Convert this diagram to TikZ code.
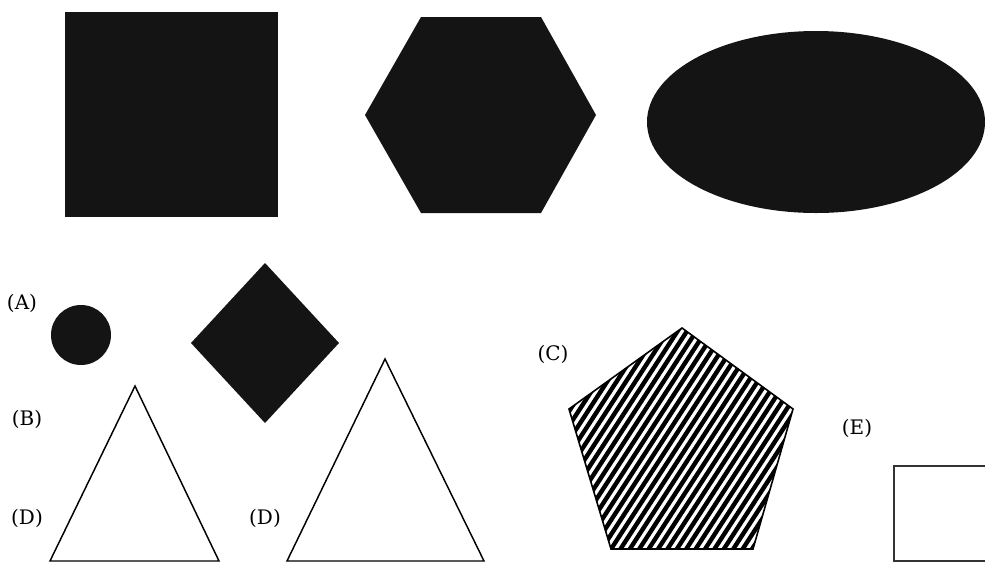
\documentclass[tikz,border=0pt]{standalone}
\usepackage{fontspec}
\setmainfont{DejaVu Serif}
\usetikzlibrary{shapes.geometric}
\begin{document}
\begin{tikzpicture}[x=0.75pt,y=-0.75pt,
  solidshape/.style={fill=black!92,draw=none},
  outline/.style={draw=black,line width=1.1pt,fill=none},
  lbl/.style={font=\fontsize{15}{18}\selectfont,inner sep=0pt,anchor=center}]
\useasboundingbox (0,0) rectangle (985,565);
\fill[white] (0,0) rectangle (985,565);
% top row
\fill[solidshape] (65,12) rectangle (278,217);
\fill[solidshape] (365,115) -- (421,17) -- (541,17) -- (596,115) -- (541,213) -- (421,213) -- cycle;
\begin{scope}
\clip (0,0) rectangle (985,565);
\fill[solidshape] (816,122) ellipse [x radius=169, y radius=91];
\end{scope}
% A
\fill[solidshape] (81,335) circle [radius=30];
\fill[solidshape] (265,263) -- (339,343) -- (265,423) -- (191,343) -- cycle;
% triangles
\draw[outline,line join=miter] (135,386) -- (219,561) -- (50,561) -- cycle;
\draw[outline,line join=miter] (385,359) -- (484,561) -- (287,561) -- cycle;
% pentagon hatched
\coordinate (p1) at (682,328);
\coordinate (p2) at (793,409);
\coordinate (p3) at (753,549);
\coordinate (p4) at (611,549);
\coordinate (p5) at (569,409);
\begin{scope}
\clip (p1) -- (p2) -- (p3) -- (p4) -- (p5) -- cycle;
\foreach \i in {0,...,45} {
  \draw[line width=3.3pt,black] ({400+\i*9.4},570) -- ++(160,-246);
}
\end{scope}
\draw[black,line width=1.2pt,line join=miter] (p1) -- (p2) -- (p3) -- (p4) -- (p5) -- cycle;
% E rectangle
\begin{scope}
\clip (0,0) rectangle (985,565);
\draw[draw=black!80,line width=1.1pt] (894,466) rectangle (1010,561);
\end{scope}
% labels
\node[lbl] (la) at (22,303) {(A)};
\node[lbl] (lb) at (27,419) {(B)};
\node[lbl] (ld1) at (27,518) {(D)};
\node[lbl] (ld2) at (265,518) {(D)};
\node[lbl] (lc) at (553,354) {(C)};
\node[lbl] (le) at (857,428) {(E)};
\end{tikzpicture}
\end{document}
